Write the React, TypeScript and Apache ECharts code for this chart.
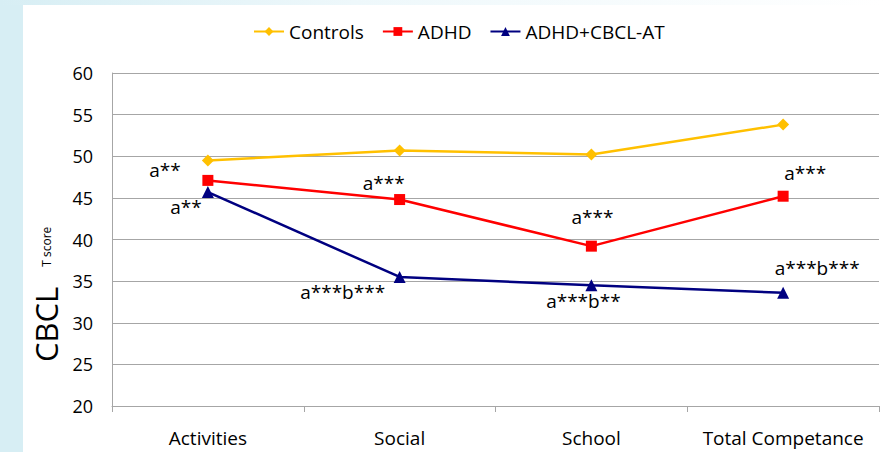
import React, { useEffect, useRef } from "react";
import * as echarts from "echarts";

const categories = ["Activities", "Social", "School", "Total Competance"];
const controlsValues = [49.5, 50.7, 50.2, 53.8];
const adhdValues = [47.1, 44.8, 39.2, 45.2];
const atValues = [45.7, 35.5, 34.5, 33.6];
const adhdNotes = ["a**", "a***", "a***", "a***"];
const atNotes = ["a**", "a***b***", "a***b**", "a***b***"];
const yTicks = { min: 20, max: 60, interval: 5 };

const FONT = "Open Sans";
const GRAY = "#a6a6a6";

const adhdOffsets = [[-43, -10], [-16, -17], [1, -29], [22, -23]];
const atOffsets = [[-22, 15], [-57, 15], [-8, 16], [34, -25]];

function withNotes(values: number[], notes: string[], offsets: number[][]) {
  return values.map((v, i) => ({
    value: v,
    label: {
      show: true,
      formatter: notes[i],
      position: "inside",
      offset: offsets[i],
      color: "#000",
      fontSize: 19,
      fontFamily: FONT,
    },
  }));
}

export default function App() {
  const ref = useRef<HTMLDivElement>(null);
  useEffect(() => {
    if (!ref.current) return;
    const chart = echarts.init(ref.current, undefined, { renderer: "svg" });
    chart.setOption({
      animation: false,
      textStyle: { fontFamily: FONT },
      legend: {
        left: 248,
        top: 17,
        itemWidth: 30,
        itemHeight: 11,
        itemGap: 18,
        textStyle: { fontSize: 19, color: "#000", fontFamily: FONT },
        data: ["Controls", "ADHD", "ADHD+CBCL-AT"],
      },
      grid: { left: 112, right: 5, top: 73, bottom: 46, containLabel: false },
      xAxis: {
        type: "category",
        data: categories,
        boundaryGap: true,
        axisLine: { show: true, lineStyle: { color: GRAY, width: 1 } },
        axisTick: { show: true, interval: 0, length: 6, lineStyle: { color: GRAY } },
        axisLabel: { interval: 0, fontSize: 19, color: "#000", fontFamily: FONT, margin: 22 },
      },
      yAxis: {
        type: "value",
        min: yTicks.min,
        max: yTicks.max,
        interval: yTicks.interval,
        axisLine: { show: true, lineStyle: { color: GRAY, width: 1 } },
        axisTick: { show: false },
        splitLine: { show: true, lineStyle: { color: GRAY, width: 1 } },
        axisLabel: { fontSize: 18, color: "#000", fontFamily: FONT, margin: 19 },
      },
      graphic: [
        {
          type: "text",
          x: 46,
          y: 362,
          rotation: Math.PI / 2,
          style: {
            text: "{a|CBCL}{b|T score}",
            fontFamily: FONT,
            fill: "#000",
            align: "left",
            verticalAlign: "middle",
            rich: {
              a: { fontSize: 31, fontFamily: FONT, fill: "#000", verticalAlign: "middle" },
              b: {
                fontSize: 12,
                fontFamily: FONT,
                fill: "#000",
                verticalAlign: "middle",
                padding: [0, 0, 0, 20],
              },
            },
          },
        },
      ],
      series: [
        {
          name: "Controls",
          type: "line",
          data: controlsValues,
          symbol: "diamond",
          symbolSize: 12,
          lineStyle: { color: "#FFC000", width: 2.5 },
          itemStyle: { color: "#FFC000" },
        },
        {
          name: "ADHD",
          type: "line",
          data: withNotes(adhdValues, adhdNotes, adhdOffsets),
          symbol: "rect",
          symbolSize: 11,
          lineStyle: { color: "#FF0000", width: 2.5 },
          itemStyle: { color: "#FF0000" },
        },
        {
          name: "ADHD+CBCL-AT",
          type: "line",
          data: withNotes(atValues, atNotes, atOffsets),
          symbol: "triangle",
          symbolSize: 12,
          lineStyle: { color: "#000080", width: 2.5 },
          itemStyle: { color: "#000080" },
        },
      ],
    });
    return () => chart.dispose();
  }, []);

  return (
    <div style={{ position: "fixed", left: 0, top: 0, width: 884, height: 452, background: "#d7eef4" }}>
      <div
        style={{
          position: "absolute",
          left: 0,
          top: 0,
          width: 884,
          height: 5,
          background: "linear-gradient(to right, #d7eef4, #eef8fb 40%, #ffffff)",
        }}
      />
      <div style={{ position: "absolute", left: 23, top: 5, width: 861, height: 447, background: "#ffffff" }} />
      <div ref={ref} style={{ position: "absolute", left: 0, top: 0, width: 884, height: 452 }} />
    </div>
  );
}
